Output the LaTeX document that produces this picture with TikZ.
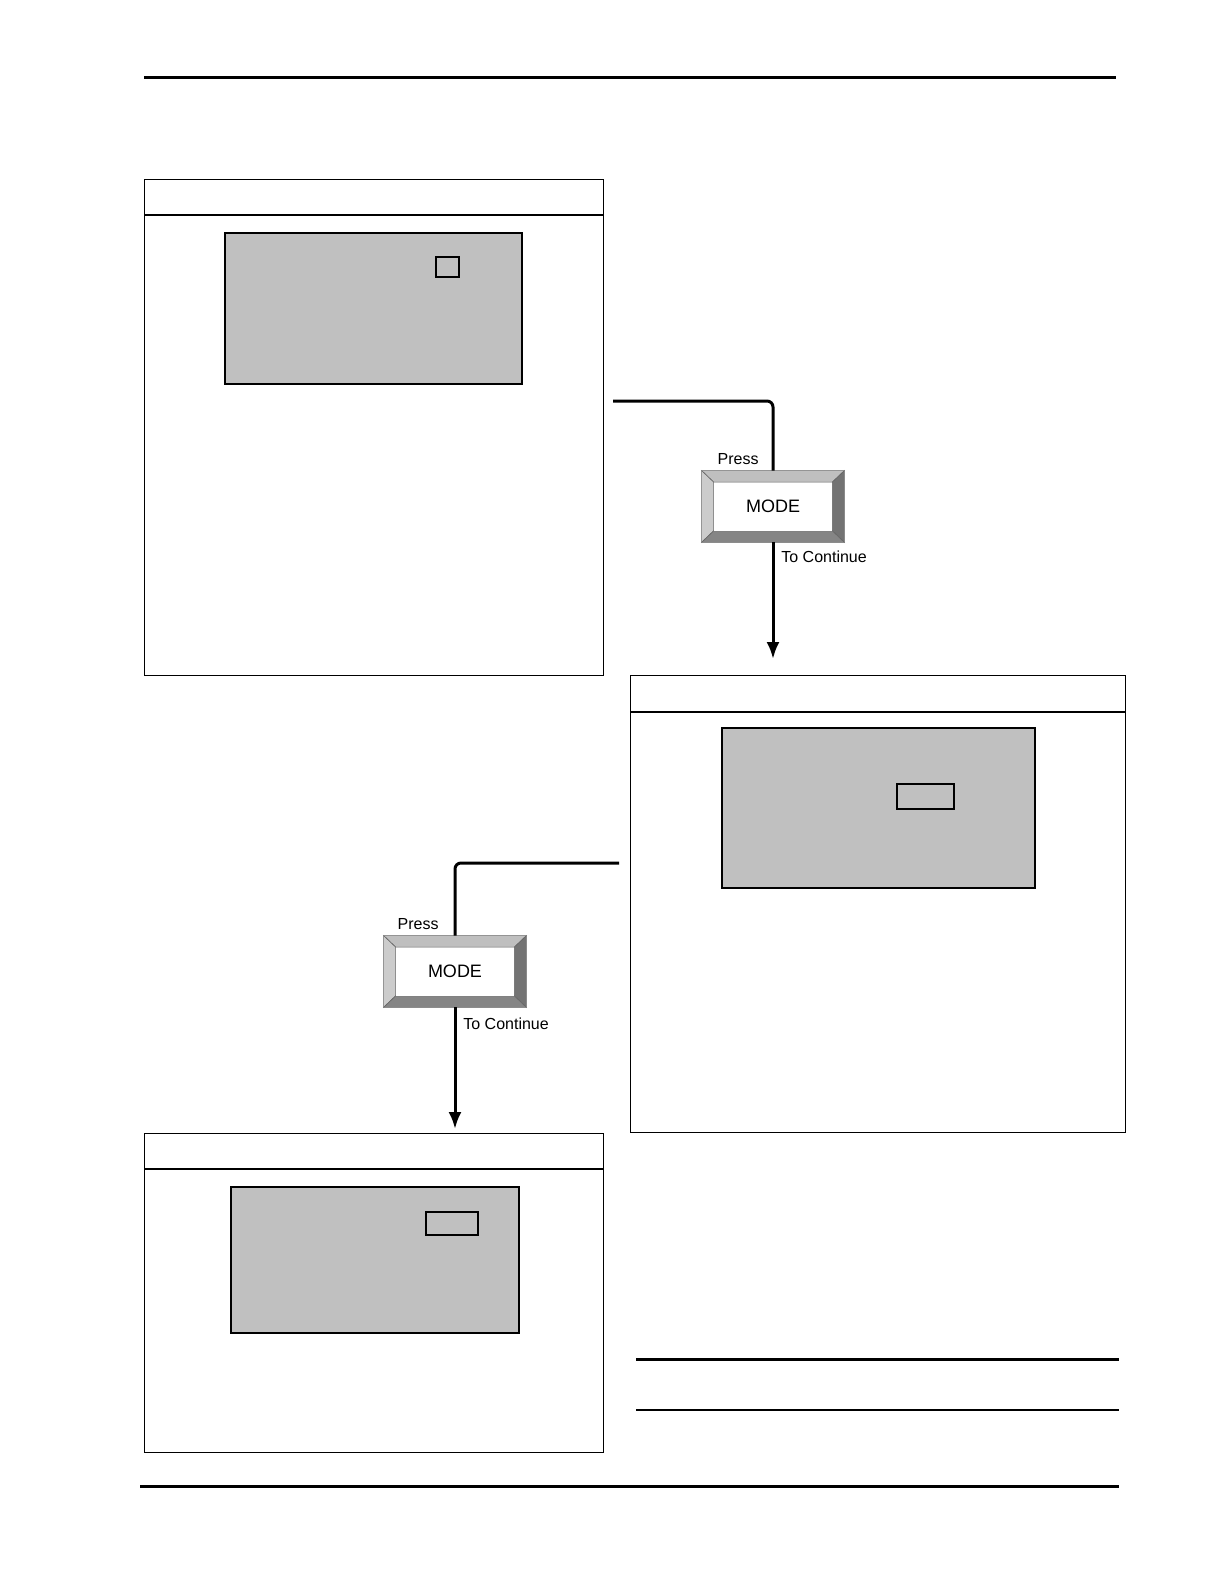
\documentclass[tikz,border=0pt]{standalone}
\usepackage{fontspec}
\setmainfont{Liberation Sans}
\usetikzlibrary{arrows.meta}

\tikzset{
  panel/.style={draw, line width=0.7pt, rectangle, anchor=north west, inner sep=0pt},
  screen/.style={draw, line width=1pt, fill=lcdgray, rectangle, anchor=north west, inner sep=0pt},
  keyface/.style={rectangle, inner sep=0pt, minimum width=71pt, minimum height=35.5pt},
  keytop/.style={rectangle, fill=white, inner sep=0pt, minimum width=59pt, minimum height=24pt, font=\fontsize{9}{10}\selectfont},
  bevel/.style={draw=black!60, line width=0.3pt},
  flow/.style={line width=1.5pt, rounded corners=3pt},
  hint/.style={font=\fontsize{8}{9}\selectfont, inner sep=1pt}
}
\definecolor{lcdgray}{HTML}{C0C0C0}

\begin{document}
\begin{tikzpicture}[x=0.5pt, y=-0.5pt]
  \useasboundingbox (0,0) rectangle (1224,1584);

  % page rules
  \draw[line width=1.5pt] (144,78) -- (1116,78);
  \draw[line width=1.5pt] (140,1486) -- (1119,1486);

  % panels
  \node[panel, minimum width=229.5pt, minimum height=248pt] (p1) at (144,179) {};
  \draw[line width=0.7pt] ([yshift=-18pt]p1.north west) -- ([yshift=-18pt]p1.north east);
  \node[panel, minimum width=247.5pt, minimum height=228.5pt] (p2) at (630,675) {};
  \draw[line width=0.7pt] ([yshift=-18.5pt]p2.north west) -- ([yshift=-18.5pt]p2.north east);
  \node[panel, minimum width=229.5pt, minimum height=159.5pt] (p3) at (144,1133) {};
  \draw[line width=0.7pt] ([yshift=-18pt]p3.north west) -- ([yshift=-18pt]p3.north east);

  % displays
  \node[screen, minimum width=148.5pt, minimum height=75.5pt] (s1) at (224,232) {};
  \draw[line width=1pt] (436,257) rectangle (459,277);
  \node[screen, minimum width=156.5pt, minimum height=80pt] (s2) at (721,727) {};
  \draw[line width=1pt] (897,784) rectangle (954,809);
  \node[screen, minimum width=144pt, minimum height=73pt] (s3) at (230,1186) {};
  \draw[line width=1pt] (426,1212) rectangle (478,1235);

  % MODE keys
  \foreach \k/\kx/\ky in {1/773/506.5, 2/455/971.5} {
    \node[keyface] (o\k) at (\kx,\ky) {};
    \node[keytop] (mode\k) at (\kx,\ky) {MODE};
    \filldraw[bevel, fill=black!25] (o\k.north west) -- (o\k.north east) -- (mode\k.north east) -- (mode\k.north west) -- cycle;
    \filldraw[bevel, fill=black!20] (o\k.north west) -- (mode\k.north west) -- (mode\k.south west) -- (o\k.south west) -- cycle;
    \filldraw[bevel, fill=black!55] (o\k.north east) -- (o\k.south east) -- (mode\k.south east) -- (mode\k.north east) -- cycle;
    \filldraw[bevel, fill=black!48] (o\k.south west) -- (o\k.south east) -- (mode\k.south east) -- (mode\k.south west) -- cycle;
    \node[keytop] at (\kx,\ky) {MODE};
  }

  % connectors
  \coordinate (from1) at (613,401);
  \coordinate (to1) at (773,659);
  \draw[flow] (from1) -| (o1.north);
  \draw[line width=1.5pt, -{Latex[length=8.5pt, width=6.5pt]}] (o1.south) -- (to1);
  \node[hint, anchor=south east] (press1) at ([xshift=-6pt, yshift=2pt]o1.north) {Press};
  \node[hint, anchor=north west] (cont1) at ([xshift=3pt, yshift=-3pt]o1.south) {To Continue};

  \coordinate (from2) at (619,863);
  \coordinate (to2) at (455,1129);
  \draw[flow] (from2) -| (o2.north);
  \draw[line width=1.5pt, -{Latex[length=8.5pt, width=6.5pt]}] (o2.south) -- (to2);
  \node[hint, anchor=south east] (press2) at ([xshift=-7pt, yshift=2pt]o2.north) {Press};
  \node[hint, anchor=north west] (cont2) at ([xshift=3pt, yshift=-4pt]o2.south) {To Continue};

  % note lines
  \draw[line width=1.5pt] (636,1359) -- (1119,1359);
  \draw[line width=0.8pt] (636,1410) -- (1119,1410);

\end{tikzpicture}
\end{document}
